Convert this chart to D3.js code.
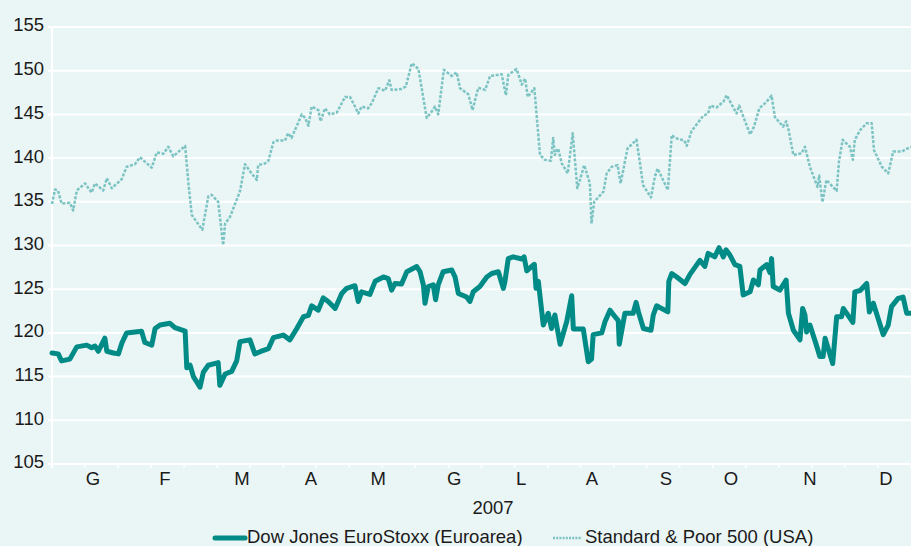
<!DOCTYPE html>
<html><head><meta charset="utf-8">
<script src="https://cdn.jsdelivr.net/npm/d3@7"></script>
<style>
html,body{margin:0;padding:0;background:#eaf5f5;}
svg{display:block;}
text{font-family:"Liberation Sans",Arial,Helvetica,sans-serif;fill:#1a1a1a;}
</style></head><body>
<svg id="chart" width="911" height="546"></svg>
<script>
// trading-day index (0..260) and value
const euroStoxx = [
[0,117.7],[1.9,117.6],[2.9,116.8],[5.4,117.0],[7.5,118.4],[10.5,118.6],[12,118.3],[13,118.5],[14,117.9],[16,119.4],[16.6,117.9],[18.6,117.7],[20.1,117.6],[21.1,118.8],[22.6,120.0],[27.1,120.2],[28.1,118.9],[30.2,118.6],[31.2,120.5],[32.7,120.9],[35.7,121.1],[37.2,120.6],[40.3,120.2],[40.8,116.0],[41.8,116.3],[42.8,115.0],[44.8,113.8],[45.8,115.5],[47.3,116.3],[50.3,116.6],[50.8,114.0],[52.4,115.3],[54.4,115.6],[55.9,116.8],[56.9,119.0],[59.9,119.2],[61.4,117.6],[63,117.85],[65.5,118.2],[67,119.45],[70,119.75],[72,119.2],[74.1,120.5],[76.1,121.85],[77.6,122.0],[78.6,123.1],[80.6,122.6],[82.1,124.0],[83.6,123.6],[85.7,122.8],[87.7,124.5],[89.2,125.1],[91.7,125.4],[92.7,123.6],[93.7,124.7],[96.2,124.4],[97.8,125.9],[100.3,126.4],[101.8,126.2],[102.8,124.9],[103.8,125.65],[105.8,125.6],[107.4,127.0],[110.4,127.6],[111.4,127.0],[112.4,125.5],[112.9,123.4],[113.9,125.3],[115.4,125.5],[116.1,123.8],[116.9,125.5],[118.4,127.0],[121,127.2],[122,126.4],[123,124.5],[125.5,124.1],[126.5,123.6],[127.5,124.7],[129.5,125.3],[131.6,126.4],[133.1,126.8],[135.1,127.0],[136.6,125.1],[137.1,125.9],[138.1,128.5],[139.6,128.7],[142.2,128.45],[142.9,128.7],[143.7,127.1],[145.2,127.6],[146,127.85],[146.5,125.1],[147.2,125.9],[148.7,120.9],[150.2,122.25],[151.2,120.5],[152.2,122.05],[153.8,118.7],[155.8,121.3],[157.3,124.25],[157.8,120.45],[160.8,120.45],[162.3,116.7],[163.3,117.0],[163.8,119.8],[166.4,120.0],[167.4,121.3],[168.9,122.6],[170.4,121.85],[171.4,121.4],[171.7,118.7],[173.4,122.25],[175.9,122.25],[176.8,123.5],[177.5,122.4],[179,120.5],[181.3,120.3],[182,122.05],[183,123.1],[186.4,122.4],[186.7,125.9],[187.6,126.8],[189.1,126.4],[191.6,125.65],[193.1,126.7],[196.1,128.3],[197.6,127.6],[198.6,129.1],[200.6,128.7],[201.9,129.75],[203.2,128.7],[204,129.5],[205.2,128.9],[206.7,127.8],[208.2,127.6],[209.2,124.35],[211.3,124.7],[212.3,126.05],[213.8,125.5],[214.3,127.2],[216.3,127.8],[217.3,126.9],[217.8,128.5],[218.3,125.3],[220.3,124.9],[222.2,126.05],[222.9,122.25],[224.4,120.3],[226.4,119.2],[227.2,122.8],[227.9,122.05],[228.4,120.1],[229.4,120.9],[231.2,118.8],[232.4,117.3],[233.4,117.3],[234,119.4],[236.3,116.5],[237.5,121.85],[239,121.85],[239.5,122.8],[242.4,121.2],[243,124.7],[244.6,124.85],[246.6,125.65],[247.4,122.4],[248.6,123.4],[251.6,119.8],[253.1,120.9],[254.1,123.0],[256.1,123.95],[257.6,124.1],[258.7,122.25],[260,122.25]
];
const sp500 = [
[0,134.75],[0.9,136.4],[1.8,136.3],[2.9,134.8],[5.4,134.9],[6.4,134.0],[7.5,136.3],[10,137.1],[12,136.05],[13,137.1],[15.5,136.3],[16.6,137.7],[18.1,136.55],[21.1,137.6],[22.6,139.0],[25.1,139.3],[26.6,140.1],[28.1,139.6],[30.2,138.9],[31.7,140.65],[33.7,140.5],[35.2,141.3],[36.7,140.2],[40.3,141.4],[41.3,137.1],[42.3,133.5],[43.8,132.7],[45.5,131.8],[47.3,135.6],[48.3,135.8],[50.3,135.0],[51.8,130.05],[52.4,132.5],[53.9,133.3],[56.9,136.2],[58.4,139.3],[60.4,138.25],[62,137.5],[62.4,139.2],[64.5,139.4],[65.5,139.7],[67,141.8],[68,142.0],[70.5,142.0],[71.5,142.85],[72.5,142.3],[75.6,145.0],[76.6,144.6],[77.6,143.7],[78.6,145.9],[80.6,145.5],[81.3,144.2],[82.6,145.7],[84.1,145.0],[86.2,145.2],[88.7,147.0],[90.2,147.0],[91.7,145.9],[92.7,145.1],[93.7,145.9],[95.7,145.7],[96.8,146.3],[98.8,148.0],[100.8,147.7],[102.1,148.9],[102.8,147.8],[105.8,147.9],[107.1,148.2],[108.9,150.85],[110.9,150.2],[111.9,148.0],[113.4,144.6],[114.9,145.3],[115.9,145.9],[116.9,145.0],[118.6,150.1],[121,149.4],[122.5,149.8],[123.5,148.0],[126,147.3],[127.3,145.5],[129,148.05],[131.1,147.8],[132.6,149.4],[134.6,149.5],[136.1,149.6],[137.4,147.2],[138.1,149.5],[140.6,150.2],[142.2,148.4],[143.2,149.1],[144,147.0],[146,148.0],[147.7,140.35],[149.2,139.8],[151,139.7],[151.7,142.3],[152.2,140.35],[153.2,141.1],[154.3,139.4],[156.1,138.25],[157.6,142.85],[159,136.55],[160.1,137.9],[161.1,139.2],[162.8,137.1],[163.3,132.5],[164.1,135.0],[166.9,136.15],[167.9,138.25],[169.4,139.0],[171.2,139.2],[172.1,137.1],[174.2,141.1],[176.9,142.1],[177.9,139.6],[178.9,136.9],[181.3,135.5],[182.5,137.9],[183.3,138.8],[186.4,136.35],[187.6,142.65],[188.6,142.3],[191.4,142.0],[192.1,141.4],[193.6,143.1],[197.1,144.85],[198.6,145.1],[199.2,146.0],[201.2,145.8],[203.2,146.45],[204.2,147.2],[207.2,145.1],[208,146.0],[211.3,142.7],[212.5,143.6],[214.1,145.7],[216.3,146.45],[217.8,147.15],[218.8,144.7],[221.3,143.6],[222.2,144.2],[222.9,143.3],[224.4,140.35],[226.9,140.55],[227.9,141.3],[229.4,139.0],[230.9,137.5],[231.7,136.7],[232.2,138.0],[233.2,134.95],[234.4,137.5],[237.5,136.25],[238.2,139.6],[239.3,142.1],[241.5,141.3],[242.4,139.8],[243,142.1],[244.6,143.2],[246.6,144.0],[248.1,144.0],[248.8,140.9],[251.2,139.0],[253.1,138.25],[254.6,140.75],[257.2,140.75],[260,141.3]
];
const yTicks = [105,110,115,120,125,130,135,140,145,150,155];
const monthLabels = ["G","F","M","A","M","G","L","A","S","O","N","D"];
const monthCenters = [12.4,34.2,57.5,78.4,98.7,121.7,142,163.4,185.8,205.5,229.4,252.4];
const xTickDays = d3.range(0, 261, 10);
const yearLabel = "2007";
const seriesNames = ["Dow Jones EuroStoxx (Euroarea)", "Standard & Poor 500 (USA)"];

const svg = d3.select("#chart");
const x = d3.scaleLinear().domain([0,260]).range([52,911]);
const y = d3.scaleLinear().domain([105,155]).range([464,27]);
const FS = 18.5;

// gridlines
svg.append("g").selectAll("line").data(yTicks).join("line")
  .attr("x1",48).attr("x2",911).attr("y1",d=>y(d)).attr("y2",d=>y(d))
  .attr("stroke","#ffffff").attr("stroke-width",2);
// y axis line
svg.append("line").attr("x1",x(0)).attr("x2",x(0)).attr("y1",y(155)).attr("y2",468)
  .attr("stroke","#ffffff").attr("stroke-width",2);
// x ticks
svg.append("g").selectAll("line").data(xTickDays).join("line")
  .attr("x1",d=>x(d)).attr("x2",d=>x(d)).attr("y1",464).attr("y2",468)
  .attr("stroke","#ffffff").attr("stroke-width",1.5);
// y labels
svg.append("g").selectAll("text").data(yTicks).join("text")
  .attr("x",44).attr("y",d=>y(d)-2).attr("dy","0.35em").attr("text-anchor","end")
  .attr("font-size",FS).text(d=>d);
// month labels
svg.append("g").selectAll("text").data(monthLabels).join("text")
  .attr("x",(d,i)=>x(monthCenters[i])).attr("y",479).attr("dy","0.35em")
  .attr("text-anchor","middle").attr("font-size",FS).text(d=>d);
svg.append("text").attr("x",493).attr("y",508).attr("dy","0.35em")
  .attr("text-anchor","middle").attr("font-size",FS).text(yearLabel);

const line = d3.line().x(d=>x(d[0])).y(d=>y(d[1]));
svg.append("path").datum(sp500).attr("d",line).attr("fill","none")
  .attr("stroke","#7cc3c3").attr("stroke-width",2.5).attr("stroke-dasharray","3,1.6")
  .attr("stroke-linejoin","round");
svg.append("path").datum(euroStoxx).attr("d",line).attr("fill","none")
  .attr("stroke","#008b87").attr("stroke-width",5).attr("stroke-linejoin","round").attr("stroke-linecap","round");

// legend
const lg = svg.append("g");
lg.append("line").attr("x1",215).attr("x2",245).attr("y1",538).attr("y2",538)
  .attr("stroke","#008b87").attr("stroke-width",5).attr("stroke-linecap","round");
lg.append("text").attr("x",247).attr("y",537).attr("dy","0.35em").attr("font-size",FS).text(seriesNames[0]);
lg.append("line").attr("x1",553).attr("x2",582).attr("y1",538).attr("y2",538)
  .attr("stroke","#7cc3c3").attr("stroke-width",2.4).attr("stroke-dasharray","2,1.2");
lg.append("text").attr("x",585).attr("y",537).attr("dy","0.35em").attr("font-size",FS).text(seriesNames[1]);
</script>
</body></html>
